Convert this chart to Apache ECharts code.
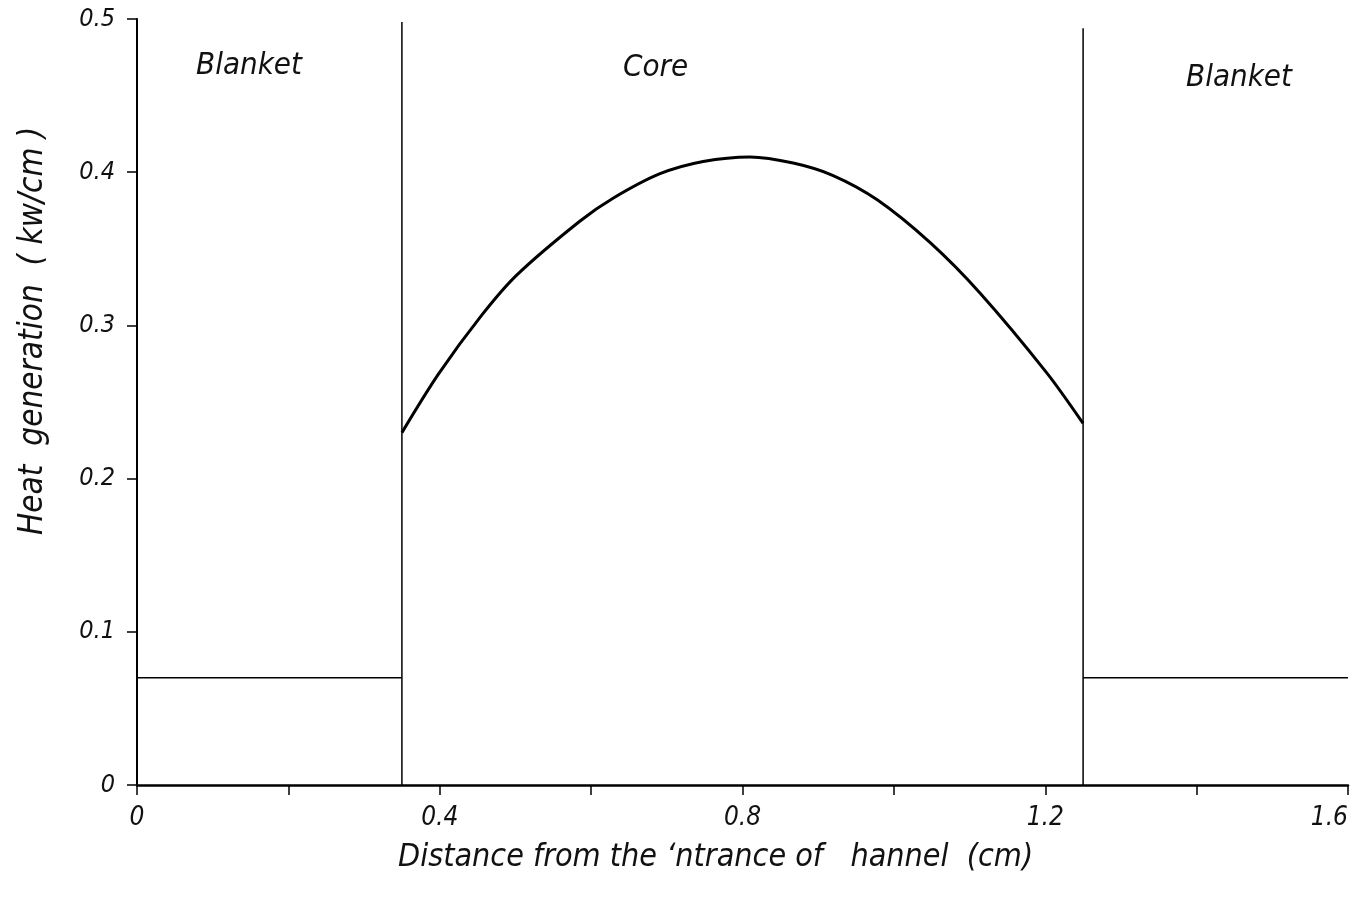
<!DOCTYPE html>
<html>
<head>
<meta charset="utf-8">
<script src="https://cdn.jsdelivr.net/npm/echarts@6/dist/echarts.min.js"></script>
<style>
html,body{margin:0;padding:0;background:#fff;}
#chart{width:1364px;height:910px;}
</style>
</head>
<body>
<div id="chart"></div>
<script>
// ---- data ----
const coreX = [0.35, 0.398, 0.456, 0.502, 0.585, 0.629, 0.691, 0.748, 0.81, 0.867, 0.919, 0.978, 1.048, 1.114, 1.202, 1.25];
const coreY = [0.230, 0.268, 0.307, 0.333, 0.368, 0.383, 0.399, 0.407, 0.410, 0.406, 0.398, 0.382, 0.354, 0.321, 0.269, 0.236];
const blanketLevel = 0.07;
const leftBoundary = 0.35;
const rightBoundary = 1.25;
const leftBoundaryTop = 0.498;
const rightBoundaryTop = 0.494;
const xMin = 0, xMax = 1.6, xTickStep = 0.2;
const yMin = 0, yMax = 0.5, yTickStep = 0.1;
const xLabelValues = [0, 0.4, 0.8, 1.2, 1.6];
const xLabelTexts = ['0', '0.4', '0.8', '1.2', '1.6'];
const yLabelValues = [0, 0.1, 0.2, 0.3, 0.4, 0.5];
const yLabelTexts = ['0', '0.1', '0.2', '0.3', '0.4', '0.5'];
const regionLabels = ['Blanket', 'Core', 'Blanket'];
const xTitle = "Distance from the \u02bbntrance of   hannel  (cm)";
const yTitle = "Heat  generation  ( kw/cm )";

const FONT = "'DejaVu Sans Condensed', 'DejaVu Sans', sans-serif";

const coreData = coreX.map((x, i) => [x, coreY[i]]);

function labelFor(values, texts, v) {
  for (let i = 0; i < values.length; i++) {
    if (Math.abs(values[i] - v) < 1e-6) return texts[i];
  }
  return '';
}

const chart = echarts.init(document.getElementById('chart'), null, {renderer: 'canvas'});
const option = {
  backgroundColor: '#ffffff',
  animation: false,
  grid: {left: 137, right: 16, top: 19, bottom: 125, containLabel: false, outerBoundsMode: 'none'},
  xAxis: {
    type: 'value', min: xMin, max: xMax, interval: xTickStep,
    axisLine: {show: true, lineStyle: {color: '#000', width: 2.5}},
    axisTick: {show: true, length: 10, lineStyle: {color: '#000', width: 1.5}},
    splitLine: {show: false},
    axisLabel: {
      margin: 20, color: '#111', fontSize: 26, fontStyle: 'italic', fontFamily: FONT,
      alignMaxLabel: 'right',
      formatter: v => labelFor(xLabelValues, xLabelTexts, v)
    }
  },
  yAxis: {
    type: 'value', min: yMin, max: yMax, interval: yTickStep,
    axisLine: {show: true, lineStyle: {color: '#000', width: 2}},
    axisTick: {show: true, length: 10, lineStyle: {color: '#000', width: 1.5}},
    splitLine: {show: false},
    axisLabel: {
      margin: 22, color: '#111', fontSize: 25, fontStyle: 'italic', fontFamily: FONT,
      formatter: v => labelFor(yLabelValues, yLabelTexts, v)
    }
  },
  series: [
    {
      type: 'line', data: coreData, smooth: 0.3, showSymbol: false,
      lineStyle: {color: '#000', width: 3}
    },
    {
      type: 'line', data: [[xMin, blanketLevel], [leftBoundary, blanketLevel]], showSymbol: false,
      lineStyle: {color: '#000', width: 1.3}
    },
    {
      type: 'line', data: [[rightBoundary, blanketLevel], [xMax, blanketLevel]], showSymbol: false,
      lineStyle: {color: '#000', width: 1.3}
    },
    {
      type: 'line', data: [[leftBoundary, 0], [leftBoundary, leftBoundaryTop]], showSymbol: false,
      lineStyle: {color: '#000', width: 1.5}
    },
    {
      type: 'line', data: [[rightBoundary, 0], [rightBoundary, rightBoundaryTop]], showSymbol: false,
      lineStyle: {color: '#000', width: 1.5}
    }
  ],
  graphic: [
    {type: 'text', left: 196, top: 50, style: {text: regionLabels[0], font: 'italic 31px ' + FONT, fill: '#111'}},
    {type: 'text', left: 623, top: 52, style: {text: regionLabels[1], font: 'italic 31px ' + FONT, fill: '#111'}},
    {type: 'text', left: 1186, top: 62, style: {text: regionLabels[2], font: 'italic 31px ' + FONT, fill: '#111'}},
    {type: 'text', left: 398, top: 842, style: {text: xTitle, font: 'italic 32px ' + FONT, fill: '#111'}},
    {type: 'text', x: 17, y: 535, rotation: Math.PI / 2, style: {text: yTitle, font: 'italic 33px ' + FONT, fill: '#111', textAlign: 'left', textVerticalAlign: 'top'}}
  ]
};
chart.setOption(option);
</script>
</body>
</html>
